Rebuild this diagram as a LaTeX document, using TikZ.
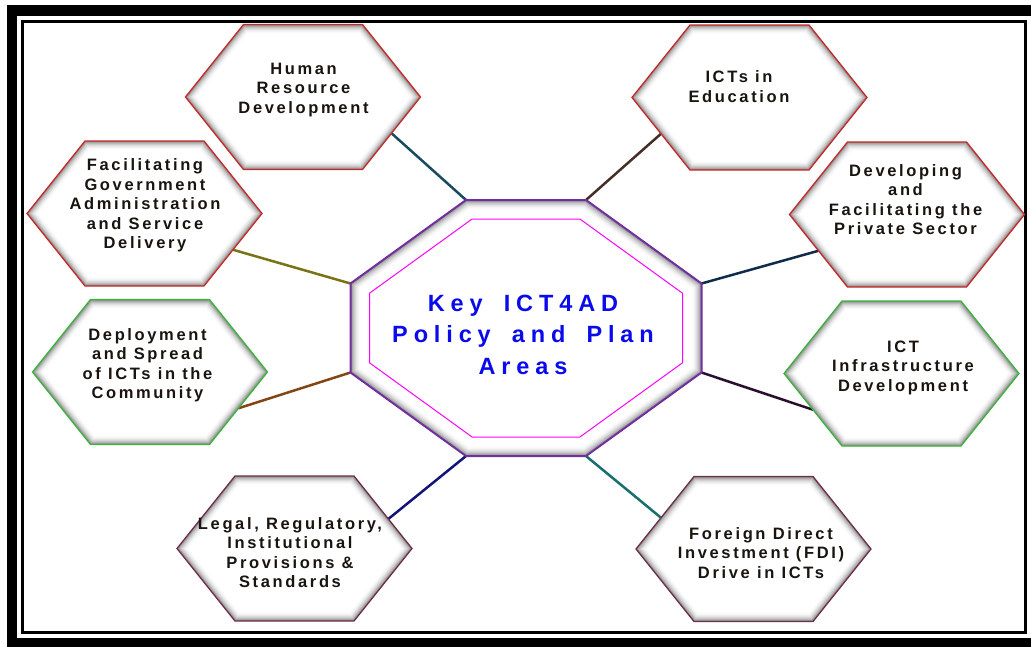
\documentclass[tikz,border=0pt]{standalone}
\usepackage{fontspec}
\setmainfont{Liberation Sans}
\newfontfamily\hexfont[LetterSpace=16]{Liberation Sans}
\newfontfamily\corefont[LetterSpace=25, WordSpace=1.7]{Liberation Sans}
\usepackage{tikz}
\usetikzlibrary{calc}

\definecolor{hexred}{RGB}{200,40,40}
\definecolor{hexgreen}{RGB}{60,180,60}
\definecolor{hexplum}{RGB}{110,45,75}
\definecolor{hextext}{RGB}{25,20,15}
\definecolor{coreblue}{RGB}{10,10,235}
\definecolor{corepurple}{RGB}{112,48,160}
\definecolor{corepink}{RGB}{255,0,255}
\definecolor{linkhrd}{RGB}{25,75,95}
\definecolor{linkedu}{RGB}{70,45,40}
\definecolor{linkgov}{RGB}{120,115,20}
\definecolor{linkpriv}{RGB}{15,45,75}
\definecolor{linkcomm}{RGB}{130,70,20}
\definecolor{linkinfra}{RGB}{40,15,45}
\definecolor{linklegal}{RGB}{20,20,120}
\definecolor{linkfdi}{RGB}{25,110,110}

\tikzset{
    hexbox/.style={minimum width=177pt, minimum height=72.5pt, inner sep=0pt, outer sep=0pt},
    hexlabel/.style={font=\hexfont\bfseries\fontsize{16.5}{19.5}\selectfont, text=hextext, align=center, inner sep=0pt},
    corelabel/.style={font=\corefont\bfseries\fontsize{23.5}{31.5}\selectfont, text=coreblue, align=center, inner sep=0pt},
    link/.style={line width=2.5pt}
}

\begin{document}
\begin{tikzpicture}[x=1pt, y=-1pt]
    \useasboundingbox (0,0) rectangle (1031,646);

    % frame
    \draw[line width=10.5pt] (12,10.5) rectangle (1045,643.5);
    \draw[line width=3pt] (22.5,21.5) rectangle (1025,632);

    % hexagon boxes, their corners sit on the slanted edges
    \node[hexbox] (hrd)   at (303,97)      {};
    \node[hexbox] (edu)   at (749.5,97.5)  {};
    \node[hexbox] (gov)   at (144.5,213.5) {};
    \node[hexbox] (priv)  at (907,214.5)   {};
    \node[hexbox] (comm)  at (150,372)     {};
    \node[hexbox] (infra) at (901.5,373.5) {};
    \node[hexbox] (legal) at (294.5,548.5) {};
    \node[hexbox] (fdi)   at (753.5,549)   {};

    % octagon corners
    \coordinate (oct-a) at (466,200);
    \coordinate (oct-b) at (586,200);
    \coordinate (oct-c) at (701.5,283.5);
    \coordinate (oct-d) at (701.5,372.5);
    \coordinate (oct-e) at (586,456);
    \coordinate (oct-f) at (466,456);
    \coordinate (oct-g) at (350.5,372.5);
    \coordinate (oct-h) at (350.5,283.5);

    % links
    \draw[link, linkhrd]   (hrd.south east)   -- (oct-a);
    \draw[link, linkedu]   (edu.south west)   -- (oct-b);
    \draw[link, linkpriv]  (priv.south west)  -- (oct-c);
    \draw[link, linkinfra] (infra.south west) -- (oct-d);
    \draw[link, linkfdi]   ([shift={(-4,5)}]fdi.north west)   -- (oct-e);
    \draw[link, linklegal] ([shift={(5,7)}]legal.north east) -- (oct-f);
    \draw[link, linkcomm]  (comm.south east)  -- (oct-g);
    \draw[link, linkgov]   (gov.south east)   -- (oct-h);

    % hexagons
    \foreach \n/\c in {hrd/hexred, edu/hexred, gov/hexred, priv/hexred, comm/hexgreen, infra/hexgreen, legal/hexplum, fdi/hexplum}{
        \begin{scope}[shift={(\n.center)}]
            \foreach \d in {0,...,9}{
                \pgfmathsetmacro\g{45*(1-\d/9)^2}
                \fill[black!\g] ({-117.5+1.281*\d},0) -- ({-59.5+0.481*\d},{-72.5+\d}) -- ({59.5-0.481*\d},{-72.5+\d})
                    -- ({117.5-1.281*\d},0) -- ({59.5-0.481*\d},{72.5-\d}) -- ({-59.5+0.481*\d},{72.5-\d}) -- cycle;
            }
            \draw[\c, line width=1.3pt] (-117.5,0) -- (-59.5,-72.5) -- (59.5,-72.5) -- (117.5,0) -- (59.5,72.5) -- (-59.5,72.5) -- cycle;
        \end{scope}
    }

    % octagon
    \begin{scope}[shift={(526,328)}]
        \foreach \d in {0,...,10}{
            \pgfmathsetmacro\g{45*(1-\d/10)^2}
            \fill[black!\g] ({-60+0.323*\d},{-128+\d}) -- ({60-0.323*\d},{-128+\d}) -- ({175.5-\d},{-44.5+0.51*\d})
                -- ({175.5-\d},{44.5-0.51*\d}) -- ({60-0.323*\d},{128-\d}) -- ({-60+0.323*\d},{128-\d})
                -- ({-175.5+\d},{44.5-0.51*\d}) -- ({-175.5+\d},{-44.5+0.51*\d}) -- cycle;
        }
        \draw[corepink, line width=1pt] (-53.9,-109) -- (53.9,-109) -- (156.5,-34.8) -- (156.5,34.8)
            -- (53.9,109) -- (-53.9,109) -- (-156.5,34.8) -- (-156.5,-34.8) -- cycle;
        \draw[corepurple, line width=2pt] (-60,-128) -- (60,-128) -- (175.5,-44.5) -- (175.5,44.5)
            -- (60,128) -- (-60,128) -- (-175.5,44.5) -- (-175.5,-44.5) -- cycle;
    \end{scope}

    % labels
    \node[corelabel] (core) at (523,334.5) {Key ICT4AD\\Policy and Plan\\Areas};

    \node[hexlabel] (hrd-txt)   at ([shift={(0.5,-7)}]hrd.center)   {Human\\Resource\\Development};
    \node[hexlabel] (edu-txt)   at ([shift={(-10.5,-11)}]edu.center) {ICTs in\\Education};
    \node[hexlabel] (gov-txt)   at ([shift={(0.5,-8)}]gov.center)   {Facilitating\\Government\\Administration\\and Service\\Delivery};
    \node[hexlabel] (priv-txt)  at ([shift={(-1.5,-15)}]priv.center) {Developing\\and\\Facilitating the\\Private Sector};
    \node[hexlabel] (comm-txt)  at ([shift={(-2.5,-7)}]comm.center) {Deployment\\and Spread\\of ICTs in the\\Community};
    \node[hexlabel] (infra-txt) at ([shift={(1.5,-6)}]infra.center) {ICT\\Infrastructure\\Development};
    \node[hexlabel] (legal-txt) at ([shift={(-4.5,4)}]legal.center) {Legal, Regulatory,\\Institutional\\Provisions \&\\Standards};
    \node[hexlabel] (fdi-txt)   at ([shift={(7.5,4)}]fdi.center)    {Foreign Direct\\Investment (FDI)\\Drive in ICTs};
\end{tikzpicture}
\end{document}
